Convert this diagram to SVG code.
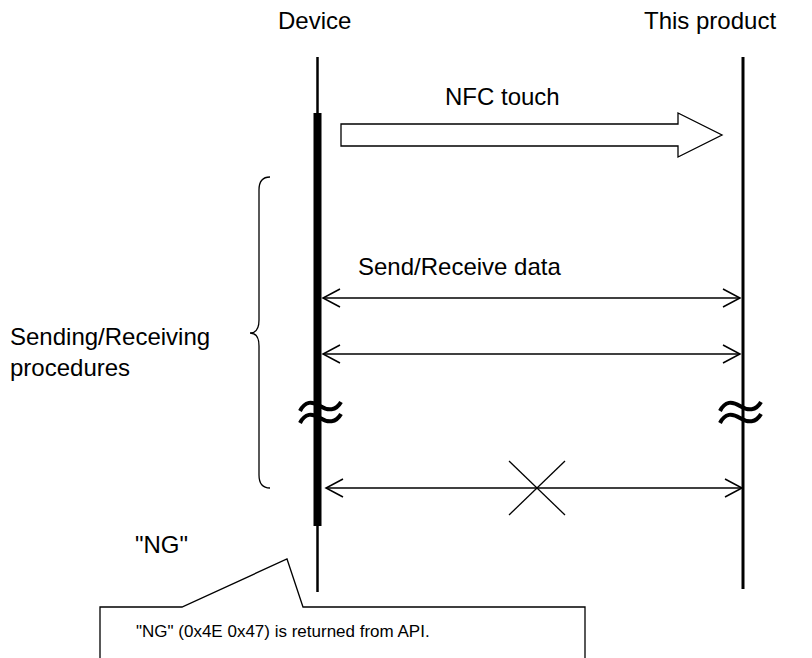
<svg xmlns="http://www.w3.org/2000/svg" width="812" height="658" viewBox="0 0 812 658">
<style>
text{font-family:"Liberation Sans",Arial,sans-serif;fill:#000}
.lbl{font-size:24px}
.small{font-size:17px}
.ln{stroke:#000;fill:none}
.msg{stroke:#000;stroke-width:1.5;fill:none}
.wave{stroke:#000;stroke-width:4;fill:none}
</style>
<defs>
<marker id="ah" viewBox="0 0 20 20" refX="18" refY="10" markerWidth="20" markerHeight="20" markerUnits="userSpaceOnUse" orient="auto-start-reverse">
<path d="M1,1 L18,10 L1,19" fill="none" stroke="#000" stroke-width="1.5"/>
</marker>
</defs>
<rect width="812" height="658" fill="#fff"/>
<g id="device">
<text class="lbl" x="278" y="29">Device</text>
<line class="ln" x1="317.5" y1="57" x2="317.5" y2="592" stroke-width="2.5"/>
<rect x="313.5" y="113" width="8" height="413" fill="#000"/>
<path class="wave" d="M300,411 C305,401 312,401 320,406 C328,411 336,411 341,402"/>
<path class="wave" d="M300,423 C305,413 312,413 320,418 C328,423 336,423 341,414"/>
</g>
<g id="product">
<text class="lbl" x="644" y="29">This product</text>
<line class="ln" x1="743" y1="57" x2="743" y2="589" stroke-width="3"/>
<path class="wave" d="M720,411 C725,401 732,401 740,406 C748,411 756,411 761,402"/>
<path class="wave" d="M720,423 C725,413 732,413 740,418 C748,423 756,423 761,414"/>
</g>
<g id="brace">
<path class="ln" stroke-width="1.3" d="M270,177 C263,177 259,181 259,190 L259,320 C259,328 256,333 250,333 C256,333 259,338 259,346 L259,475 C259,484 263,488 270,488"/>
<text class="lbl" x="10" y="345">Sending/Receiving</text>
<text class="lbl" x="10" y="376">procedures</text>
</g>
<g id="connectors">
<polygon points="341,124 678,124 678,113 722,135 678,157 678,146 341,146" fill="#fff" stroke="#000" stroke-width="1.3"/>
<text class="lbl" x="445" y="105">NFC touch</text>
<text class="lbl" x="358" y="275">Send/Receive data</text>
<line class="msg" x1="323" y1="298" x2="740" y2="298" marker-start="url(#ah)" marker-end="url(#ah)"/>
<line class="msg" x1="323" y1="354" x2="740" y2="354" marker-start="url(#ah)" marker-end="url(#ah)"/>
<line class="msg" x1="326" y1="488" x2="742" y2="488" marker-start="url(#ah)" marker-end="url(#ah)"/>
<line class="ln" stroke-width="1.3" x1="509" y1="461" x2="565" y2="515"/>
<line class="ln" stroke-width="1.3" x1="565" y1="461" x2="509" y2="515"/>
</g>
<g id="ng">
<text class="lbl" x="135" y="553">"NG"</text>
</g>
<g id="callout">
<path d="M100,659 L100,607 L182,607 L287,559 L303,607 L585,607 L585,659" fill="#fff" stroke="#000" stroke-width="1.3"/>
<text class="small" x="136" y="637">"NG" (0x4E 0x47) is returned from API.</text>
</g>
</svg>
